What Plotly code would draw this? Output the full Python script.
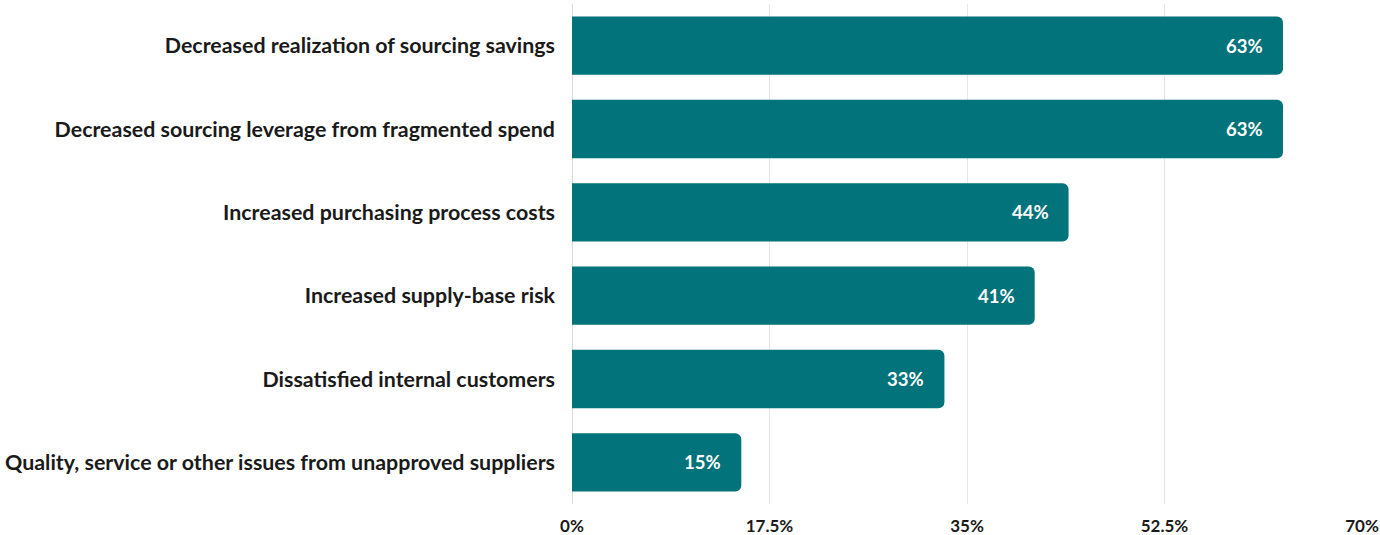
import plotly.graph_objects as go

categories = [
    "Decreased realization of sourcing savings",
    "Decreased sourcing leverage from fragmented spend",
    "Increased purchasing process costs",
    "Increased supply-base risk",
    "Dissatisfied internal customers",
    "Quality, service or other issues from unapproved suppliers",
]
values = [63, 63, 44, 41, 33, 15]
tick_vals = [0, 17.5, 35, 52.5, 70]
tick_text = ["0%", "17.5%", "35%", "52.5%", "70%"]

BAR = "#02737a"
FONT = "Lato, 'Noto Sans', sans-serif"

fig = go.Figure(go.Bar(
    y=categories,
    x=values,
    orientation="h",
    marker=dict(color=BAR, cornerradius=6, line=dict(width=0)),
    hoverinfo="skip",
))

annotations = [
    dict(x=v, y=c, xref="x", yref="y", text=f"<b>{v}%</b>", showarrow=False,
         xanchor="right", xshift=-18, font=dict(family=FONT, size=18.5, color="white"))
    for c, v in zip(categories, values)
]

fig.update_layout(
    width=1380, height=535,
    margin=dict(l=572, r=18, t=4, b=31),
    paper_bgcolor="white", plot_bgcolor="white",
    bargap=0.3,
    showlegend=False,
    annotations=annotations,
    font=dict(family=FONT, color="#1a1a1a"),
    xaxis=dict(
        range=[0, 70], tickvals=tick_vals, ticktext=tick_text,
        showgrid=True, gridcolor="#e6e6e6", gridwidth=1,
        zeroline=True, zerolinecolor="#d9d9d9", zerolinewidth=1,
        showline=False, ticks="", automargin=False,
        ticklabelstandoff=10,
        tickfont=dict(family=FONT, size=17, color="#1a1a1a", weight="bold"),
        fixedrange=True,
    ),
    yaxis=dict(
        categoryorder="array", categoryarray=categories[::-1],
        showgrid=False, showline=False, ticks="", automargin=False,
        ticklabelstandoff=16,
        tickfont=dict(family=FONT, size=21.4, color="#1a1a1a", weight="bold"),
        fixedrange=True,
    ),
)

fig.write_html("out.html", config={"displayModeBar": False},
               post_script="document.body.style.margin='0';")
